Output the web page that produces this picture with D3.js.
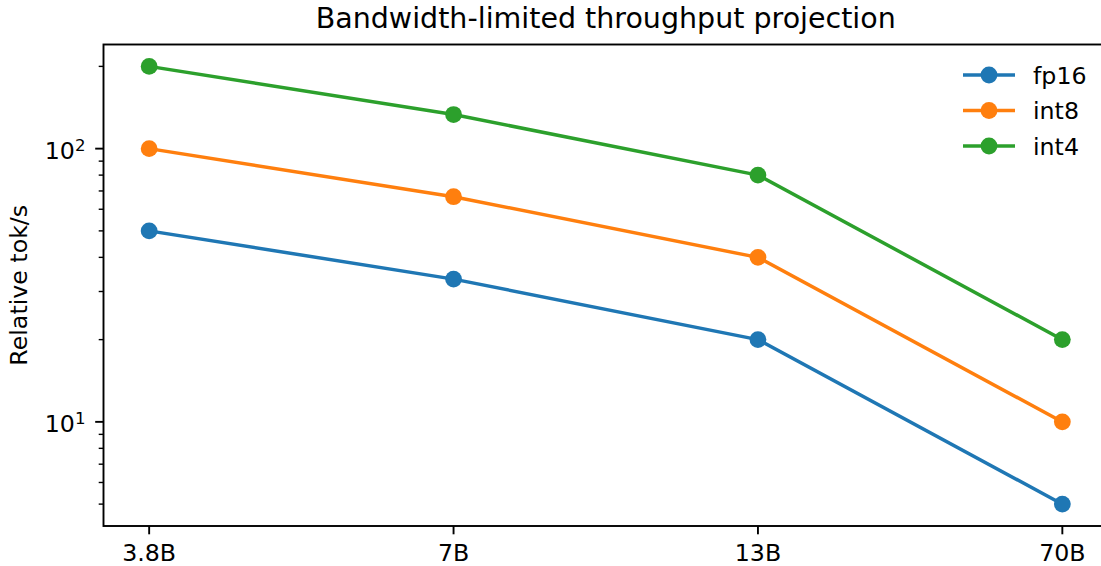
<!DOCTYPE html>
<html>
<head>
<meta charset="utf-8">
<script src="https://cdn.jsdelivr.net/npm/d3@7"></script>
<style>
  body { margin: 0; background: #fff; }
  svg { display: block; font-family: "DejaVu Sans", sans-serif; }
</style>
</head>
<body>
<div id="chart"></div>
<script>
const categories = ["3.8B", "7B", "13B", "70B"]
const fp16 = [50, 33.3, 20, 5]
const int8 = [100, 66.7, 40, 10]
const int4 = [200, 133.3, 80, 20]
const seriesNames = ["fp16", "int8", "int4"]
const majorTicks = [10, 100]
const minorTicks = [5, 6, 7, 8, 9, 20, 30, 40, 50, 60, 70, 80, 90, 200]

const COLORS = { fp16: "#1f77b4", int8: "#ff7f0e", int4: "#2ca02c" }

const width = 1101
const height = 566
const margin = { top: 44.5, right: -7, bottom: 40, left: 103.5 }
const FONT = 23.7

const series = [
  { name: "fp16", values: fp16 },
  { name: "int8", values: int8 },
  { name: "int4", values: int4 }
]

const svg = d3.select("#chart")
  .append("svg")
  .attr("width", width)
  .attr("height", height)
  .attr("viewBox", [0, 0, width, height])

const x = d3.scalePoint()
  .domain(categories)
  .range([margin.left, width - margin.right])
  .padding(0.15)

// matplotlib log autoscale adds 5% margin in log space
const yMin = 10 ** (Math.log10(5) - 0.05 * Math.log10(200 / 5))
const yMax = 10 ** (Math.log10(200) + 0.05 * Math.log10(200 / 5))
const y = d3.scaleLog()
  .domain([yMin, yMax])
  .range([height - margin.bottom, margin.top])

// Lines
const line = d3.line()
  .x((d, i) => x(categories[i]))
  .y(d => y(d))

const g = svg.append("g")

series.forEach(s => {
  g.append("path")
    .datum(s.values)
    .attr("fill", "none")
    .attr("stroke", COLORS[s.name])
    .attr("stroke-width", 3.5)
    .attr("stroke-linejoin", "round")
    .attr("stroke-linecap", "square")
    .attr("d", line)

  g.selectAll(null)
    .data(s.values)
    .join("circle")
    .attr("cx", (d, i) => x(categories[i]))
    .attr("cy", d => y(d))
    .attr("r", 8.4)
    .attr("fill", COLORS[s.name])
})

// Spines
const plotLeft = margin.left
const plotRight = width - margin.right
const plotTop = margin.top
const plotBottom = height - margin.bottom
svg.append("rect")
  .attr("x", plotLeft).attr("y", plotTop)
  .attr("width", plotRight - plotLeft).attr("height", plotBottom - plotTop)
  .attr("fill", "none")
  .attr("stroke", "#000")
  .attr("stroke-width", 1.9)

// X axis
const xAxis = svg.append("g")
xAxis.selectAll("line")
  .data(categories)
  .join("line")
  .attr("x1", d => x(d)).attr("x2", d => x(d))
  .attr("y1", plotBottom).attr("y2", plotBottom + 8.3)
  .attr("stroke", "#000").attr("stroke-width", 1.9)
xAxis.selectAll("text")
  .data(categories)
  .join("text")
  .attr("x", d => x(d))
  .attr("y", plotBottom + 35)
  .attr("text-anchor", "middle")
  .attr("font-size", FONT + "px")
  .attr("fill", "#000")
  .text(d => d)

// Y axis
const yAxis = svg.append("g")
yAxis.selectAll("line.major")
  .data(majorTicks)
  .join("line")
  .attr("class", "major")
  .attr("x1", plotLeft - 8.3).attr("x2", plotLeft)
  .attr("y1", d => y(d)).attr("y2", d => y(d))
  .attr("stroke", "#000").attr("stroke-width", 1.9)
yAxis.selectAll("line.minor")
  .data(minorTicks)
  .join("line")
  .attr("class", "minor")
  .attr("x1", plotLeft - 4.8).attr("x2", plotLeft)
  .attr("y1", d => y(d)).attr("y2", d => y(d))
  .attr("stroke", "#000").attr("stroke-width", 1.4)

const yLabels = yAxis.selectAll("text")
  .data(majorTicks)
  .join("text")
  .attr("x", plotLeft - 18)
  .attr("y", d => y(d) + 10.5)
  .attr("text-anchor", "end")
  .attr("font-size", FONT + "px")
  .attr("fill", "#000")
yLabels.append("tspan").text("10")
yLabels.append("tspan")
  .attr("dy", "-0.5em")
  .attr("font-size", "16.6px")
  .text(d => Math.round(Math.log10(d)))

// Y label
svg.append("text")
  .attr("transform", `translate(27,${(plotTop + plotBottom) / 2}) rotate(-90)`)
  .attr("text-anchor", "middle")
  .attr("font-size", FONT + "px")
  .attr("fill", "#000")
  .text("Relative tok/s")

// Title
svg.append("text")
  .attr("x", (plotLeft + plotRight) / 2)
  .attr("y", 28)
  .attr("text-anchor", "middle")
  .attr("font-size", "28.5px")
  .attr("fill", "#000")
  .text("Bandwidth-limited throughput projection")

// Legend
const legend = svg.append("g")
  .attr("transform", "translate(963,75)")
const rows = legend.selectAll("g")
  .data(seriesNames)
  .join("g")
  .attr("transform", (d, i) => `translate(0,${i * 35.5})`)
rows.append("line")
  .attr("x1", 0).attr("x2", 52)
  .attr("stroke", d => COLORS[d])
  .attr("stroke-width", 3.5)
rows.append("circle")
  .attr("cx", 26).attr("r", 8.4)
  .attr("fill", d => COLORS[d])
rows.append("text")
  .attr("x", 70).attr("y", 8.5)
  .attr("font-size", FONT + "px")
  .attr("fill", "#000")
  .text(d => d)
</script>
</body>
</html>
